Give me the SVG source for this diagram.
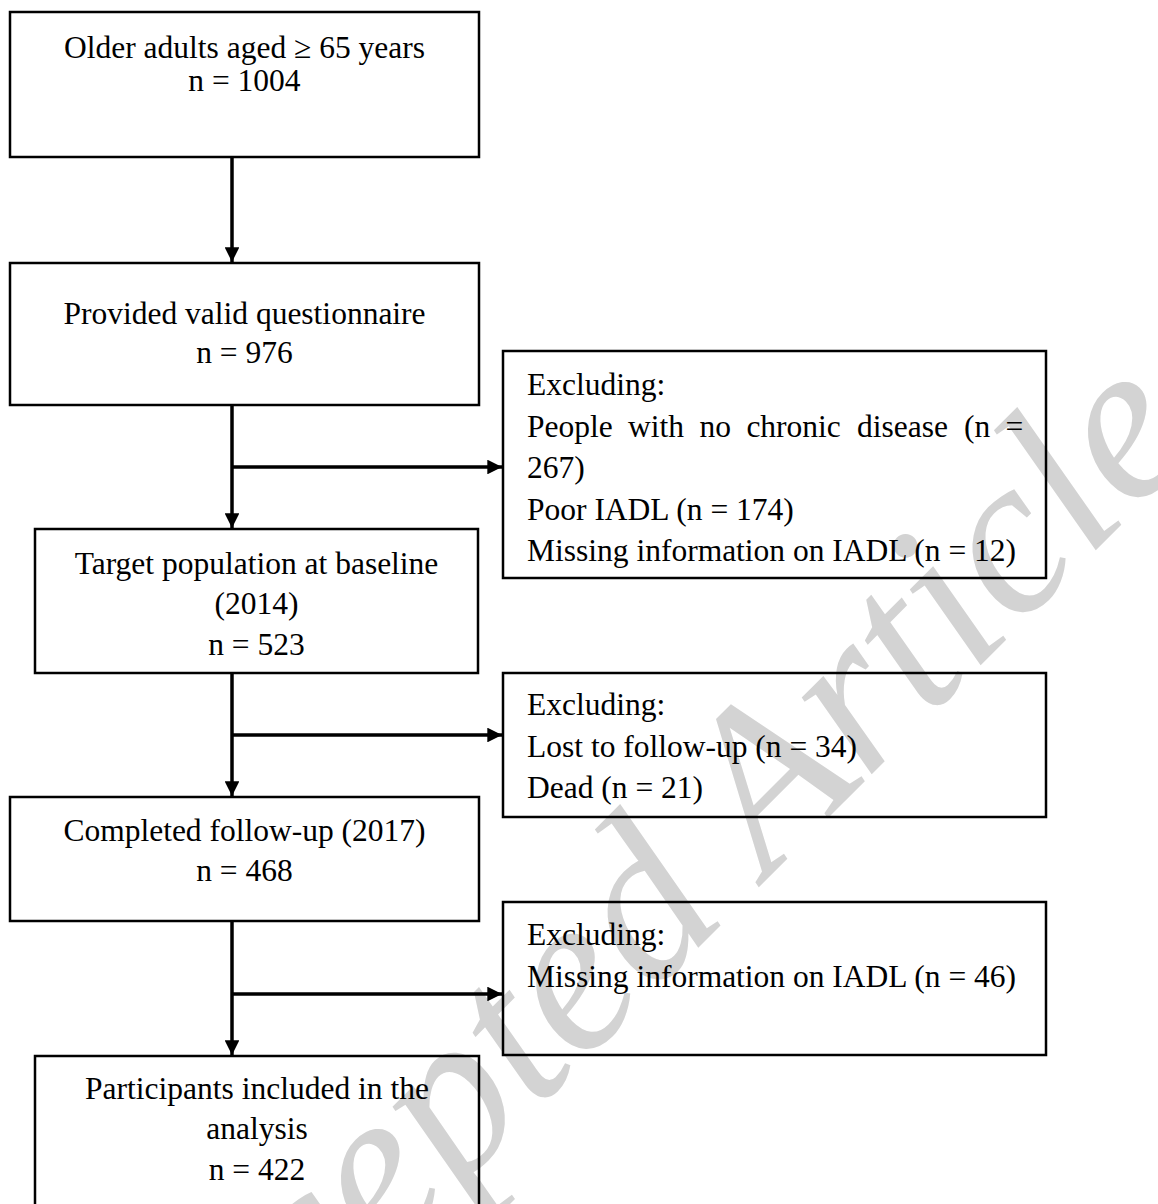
<svg xmlns="http://www.w3.org/2000/svg" width="1158" height="1204" viewBox="0 0 1158 1204">
<style>
  .box { fill: none; stroke: #000; stroke-width: 2.5; }
  .t { font-family: "Liberation Serif", "Times New Roman", serif; font-size: 31.5px; fill: #000; }
  .c { text-anchor: middle; }
  .conn { stroke: #000; stroke-width: 3.5; fill: none; }
  .wm { font-family: "Liberation Serif", "Times New Roman", serif; font-style: italic; font-size: 226px; fill: #d3d3d3; }
</style>
<defs>
  <marker id="ah" viewBox="0 0 10 10" refX="10" refY="5" markerWidth="4.2" markerHeight="4.2" markerUnits="strokeWidth" orient="auto">
    <path d="M0,0 L10,5 L0,10 z" fill="#000"/>
  </marker>
</defs>
<rect width="1158" height="1204" fill="#fff"/>
<text class="wm" transform="translate(145,1501) rotate(-45)">Accepted Article</text>

<g id="connectors">
  <line class="conn" x1="232" y1="157" x2="232" y2="262" marker-end="url(#ah)"/>
  <line class="conn" x1="232" y1="405" x2="232" y2="528" marker-end="url(#ah)"/>
  <line class="conn" x1="232" y1="467" x2="502" y2="467" marker-end="url(#ah)"/>
  <line class="conn" x1="232" y1="673" x2="232" y2="796" marker-end="url(#ah)"/>
  <line class="conn" x1="232" y1="735" x2="502" y2="735" marker-end="url(#ah)"/>
  <line class="conn" x1="232" y1="921" x2="232" y2="1055" marker-end="url(#ah)"/>
  <line class="conn" x1="232" y1="994" x2="502" y2="994" marker-end="url(#ah)"/>
</g>

<g id="n1">
  <rect class="box" x="10" y="12" width="469" height="145"/>
  <text class="t c" x="244.5" y="58">Older adults aged ≥ 65 years</text>
  <text class="t c" x="244.5" y="91">n = 1004</text>
</g>
<g id="n2">
  <rect class="box" x="10" y="263" width="469" height="142"/>
  <text class="t c" x="244.5" y="324">Provided valid questionnaire</text>
  <text class="t c" x="244.5" y="363">n = 976</text>
</g>
<g id="x1">
  <rect class="box" x="503" y="351" width="543" height="227"/>
  <text class="t" x="527" y="395">Excluding:</text>
  <text class="t" y="437"><tspan x="527">People</tspan><tspan x="628">with</tspan><tspan x="699.5">no</tspan><tspan x="746.4">chronic</tspan><tspan x="857">disease</tspan><tspan x="964">(n</tspan><tspan x="1005.5">=</tspan></text>
  <text class="t" x="527" y="478">267)</text>
  <text class="t" x="527" y="520">Poor IADL (n = 174)</text>
  <text class="t" x="527" y="561">Missing information on IADL (n = 12)</text>
</g>
<g id="n3">
  <rect class="box" x="35" y="529" width="443" height="144"/>
  <text class="t c" x="256.5" y="574">Target population at baseline</text>
  <text class="t c" x="256.5" y="614">(2014)</text>
  <text class="t c" x="256.5" y="655">n = 523</text>
</g>
<g id="x2">
  <rect class="box" x="503" y="673" width="543" height="144"/>
  <text class="t" x="527" y="715">Excluding:</text>
  <text class="t" x="527" y="757">Lost to follow-up (n = 34)</text>
  <text class="t" x="527" y="798">Dead (n = 21)</text>
</g>
<g id="n4">
  <rect class="box" x="10" y="797" width="469" height="124"/>
  <text class="t c" x="244.5" y="841">Completed follow-up (2017)</text>
  <text class="t c" x="244.5" y="881">n = 468</text>
</g>
<g id="x3">
  <rect class="box" x="503" y="902" width="543" height="153"/>
  <text class="t" x="527" y="945">Excluding:</text>
  <text class="t" x="527" y="987">Missing information on IADL (n = 46)</text>
</g>
<g id="n5">
  <rect class="box" x="35" y="1056" width="444" height="160"/>
  <text class="t c" x="257" y="1099">Participants included in the</text>
  <text class="t c" x="257" y="1139">analysis</text>
  <text class="t c" x="257" y="1180">n = 422</text>
</g>
</svg>
